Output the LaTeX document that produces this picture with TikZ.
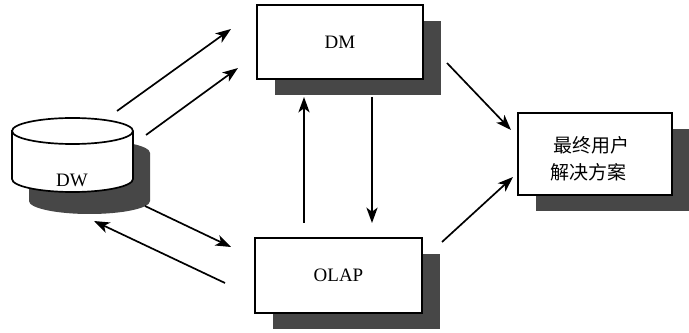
\documentclass[tikz,border=0pt]{standalone}
\usepackage{fontspec}
\setmainfont{Liberation Serif}
\newfontfamily\cjk{Noto Sans CJK SC}
\usetikzlibrary{arrows.meta,shadows}
\begin{document}
\begin{tikzpicture}[x=0.025cm,y=-0.025cm,
  boxshade/.style={draw=black,line width=1.4pt,fill=white,
    general shadow={fill=black!72,shadow xshift=0.45cm,shadow yshift=-0.40cm}},
  conn/.style={line width=1.2pt,-{Stealth[length=11pt,width=8pt,inset=3pt]}},
  lbl/.style={font=\fontsize{13.5}{16}\selectfont}]
\useasboundingbox (0,0) rectangle (689,333);
% boxes
\node[boxshade,minimum width=166*0.025cm,minimum height=74*0.025cm,lbl] (DM) at (340,42) {DM};
\node[boxshade,minimum width=167*0.025cm,minimum height=75*0.025cm,lbl] (OLAP) at (338.5,275.5) {OLAP};
\node[boxshade,minimum width=154*0.025cm,minimum height=82*0.025cm] (EU) at (595,154) {};
\node[font=\cjk\fontsize{13.5}{16}\selectfont,anchor=west] (EU1) at (549,145) {最终用户};
\node[font=\cjk\fontsize{13.5}{16}\selectfont,anchor=west] (EU2) at (546,172) {解决方案};
% DW cylinder shadow
\fill[black!72] (29,153) -- (29,201) arc[start angle=180,end angle=0,x radius=60.5,y radius=13]
  -- (150,153) arc[start angle=0,end angle=-180,x radius=60.5,y radius=13] -- cycle;
% DW cylinder
\draw[line width=1.2pt,fill=white] (12,131) -- (12,179) arc[start angle=180,end angle=0,x radius=60.5,y radius=13]
  -- (133,131) arc[start angle=0,end angle=-180,x radius=60.5,y radius=13] -- cycle;
\draw[line width=1.2pt] (12,131) arc[start angle=180,end angle=0,x radius=60.5,y radius=13];
\node[lbl] (DW) at (72,180) {DW};
% connector endpoints
\coordinate (a1) at (117,111);
\coordinate (b1) at (231,29);
\coordinate (a2) at (146,135);
\coordinate (b2) at (238,68);
\coordinate (a3) at (145,206);
\coordinate (b3) at (231,247);
\coordinate (a4) at (225,283);
\coordinate (b4) at (94,221);
\coordinate (a5) at (304,223);
\coordinate (b5) at (304,97);
\coordinate (a6) at (372,97);
\coordinate (b6) at (372,223);
\coordinate (a7) at (447,63);
\coordinate (b7) at (511,130);
\coordinate (a8) at (442,242);
\coordinate (b8) at (513,177);
\draw[conn] (a1) -- (b1);
\draw[conn] (a2) -- (b2);
\draw[conn] (a3) -- (b3);
\draw[conn] (a4) -- (b4);
\draw[conn] (a5) -- (b5);
\draw[conn] (a6) -- (b6);
\draw[conn] (a7) -- (b7);
\draw[conn] (a8) -- (b8);
\end{tikzpicture}
\end{document}
